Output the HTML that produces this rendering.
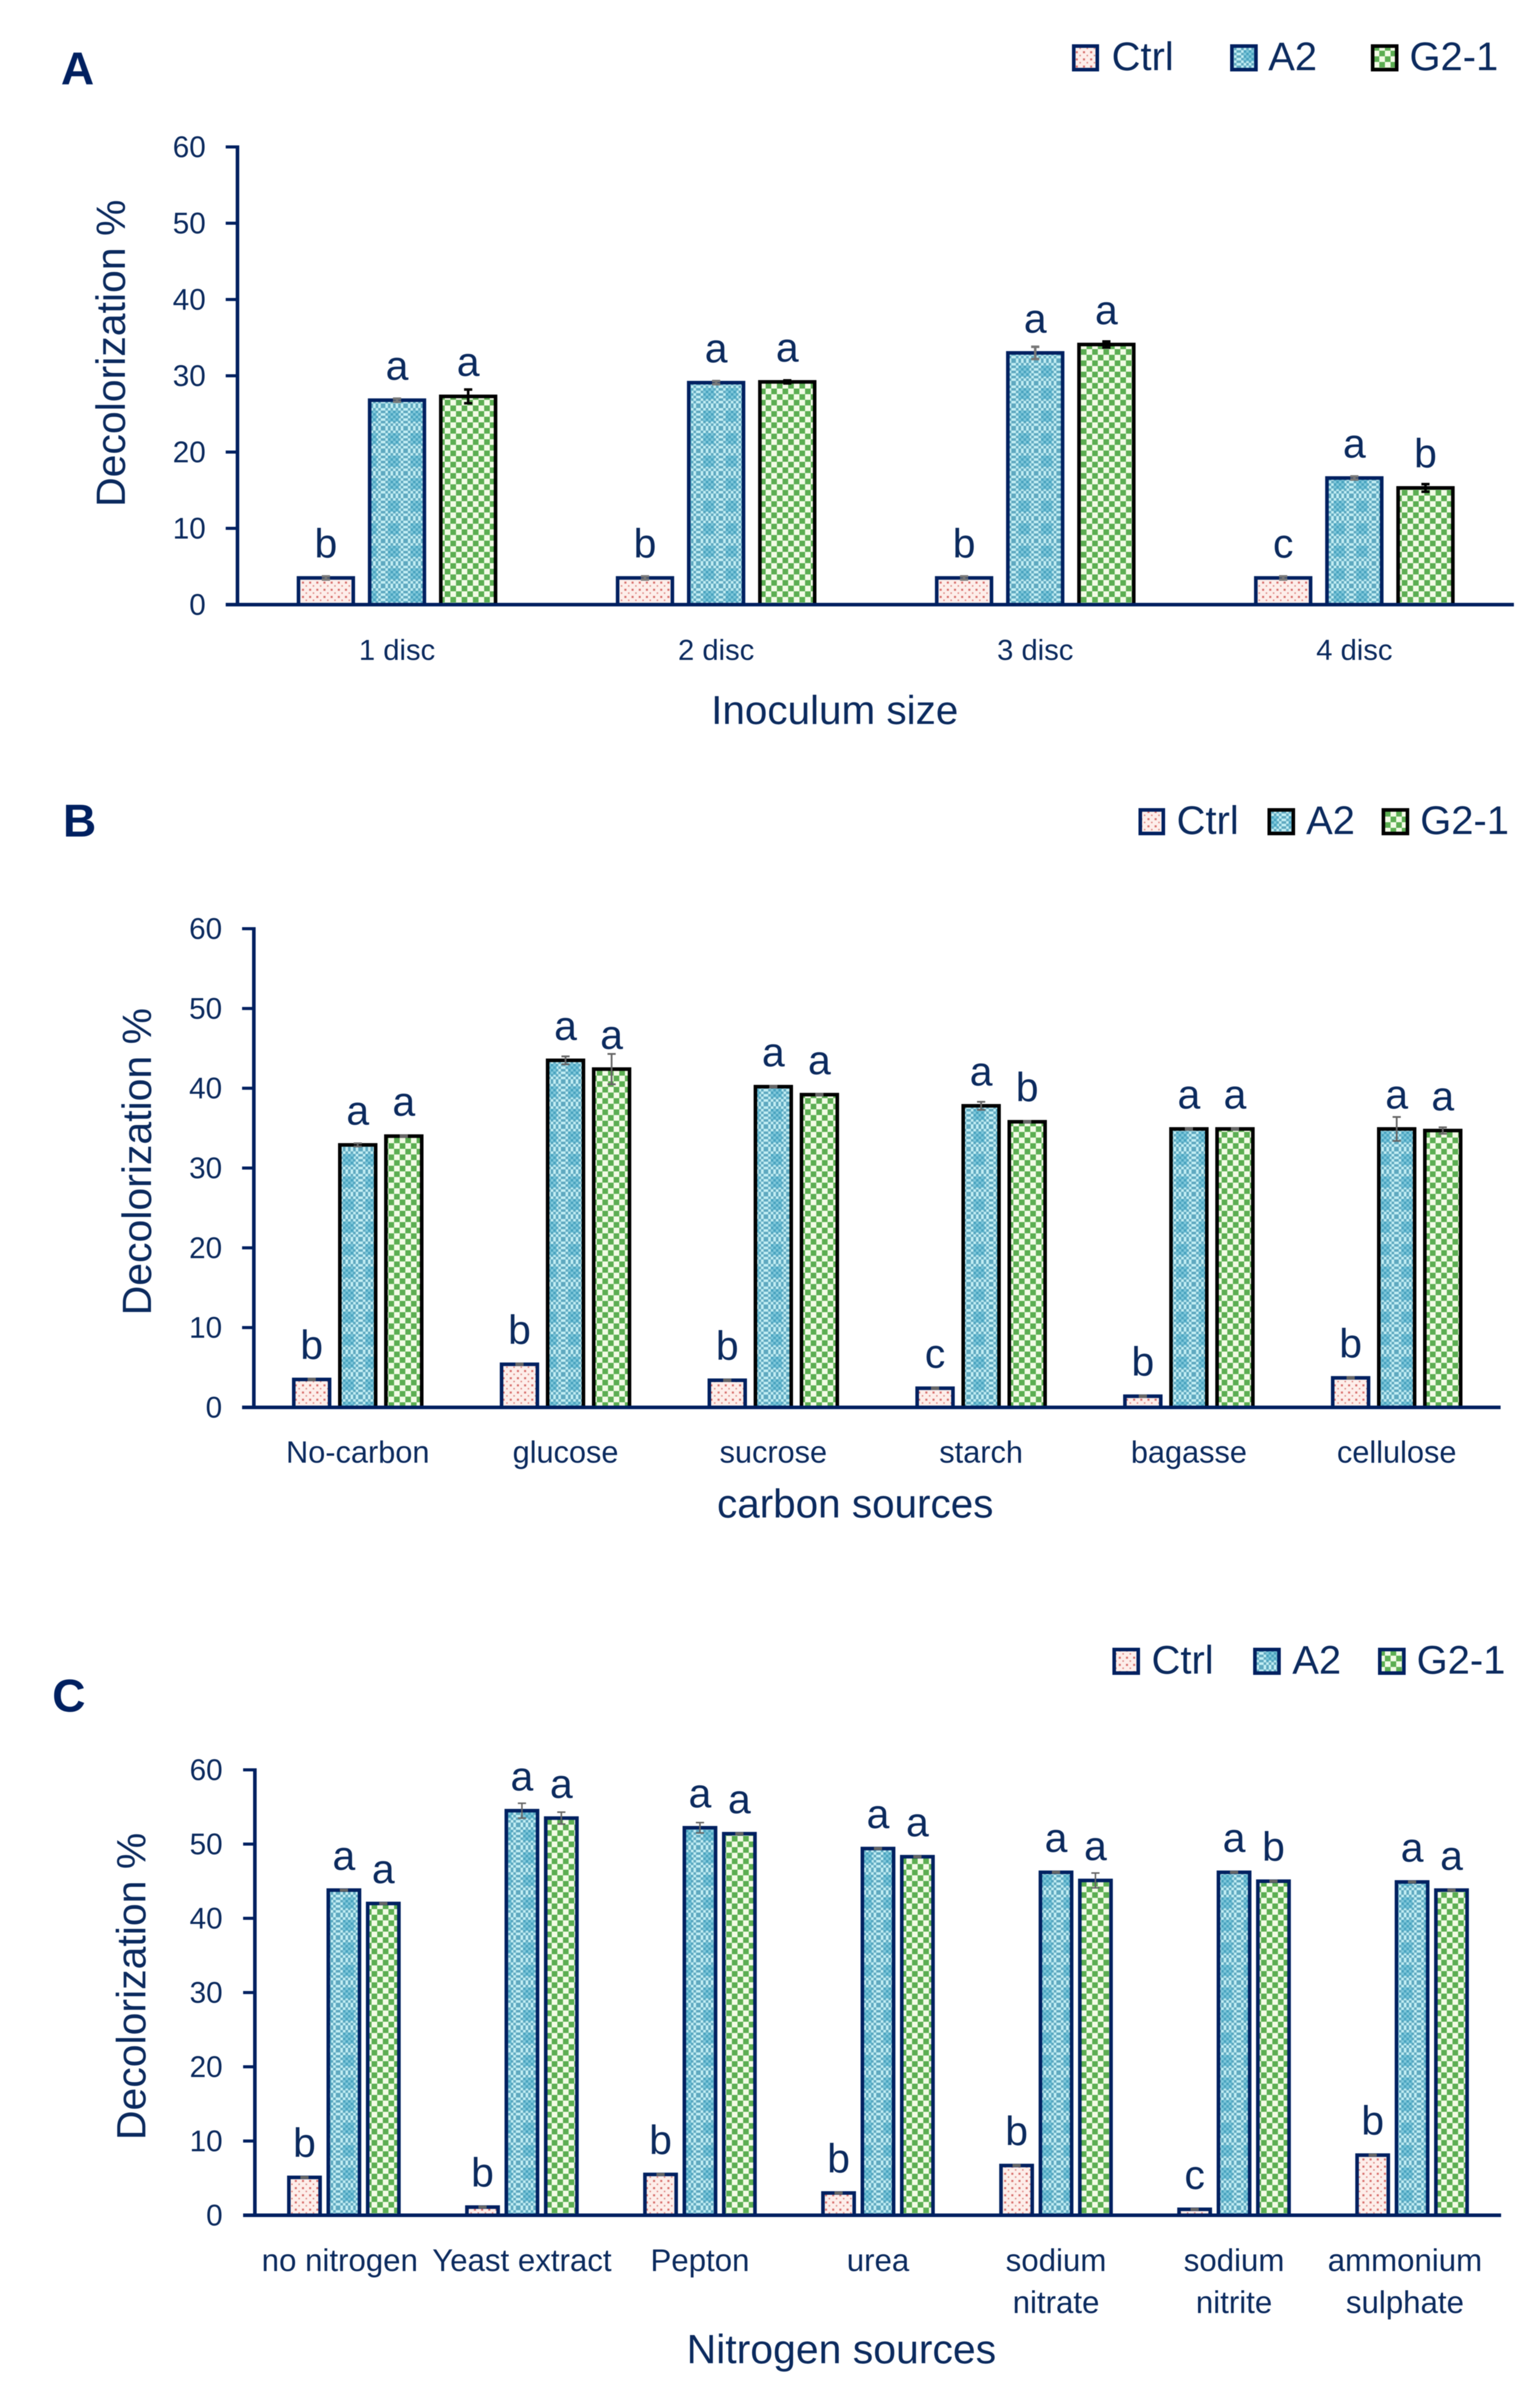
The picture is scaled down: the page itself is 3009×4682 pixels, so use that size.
<!DOCTYPE html>
<html lang="en">
<head>
<meta charset="utf-8">
<title>Decolorization % by inoculum size, carbon sources and nitrogen sources</title>
<style>
html,body{margin:0;padding:0;background:#fff;}
body{width:3009px;height:4682px;overflow:hidden;}
svg{display:block;font-family:"Liberation Sans",sans-serif;fill:#0b2a5e;filter:blur(0.7px);}
svg text{fill:#0b2a5e;}
.panel-letter{font-weight:700;font-size:90px;fill:#002060;}
.leg{font-size:78px;}
</style>
</head>
<body>
<svg id="figure" xmlns="http://www.w3.org/2000/svg" width="3009" height="4682" viewBox="0 0 3009 4682">
  <defs>
    <pattern id="ctrl-fill" patternUnits="userSpaceOnUse" width="14" height="14">
      <rect width="14" height="14" fill="#fdeeea"/>
      <rect x="2" y="2" width="4" height="4" fill="#d9726f"/>
      <rect x="9" y="9" width="3" height="3" fill="#e08f8b"/>
    </pattern>
    <pattern id="fine-check" patternUnits="userSpaceOnUse" width="10" height="10">
      <rect width="10" height="10" fill="#c2edf3"/>
      <rect width="5" height="5" fill="#5fa9c0"/>
      <rect x="5" y="5" width="5" height="5" fill="#5fa9c0"/>
    </pattern>
    <pattern id="a2-fill" patternUnits="userSpaceOnUse" width="44" height="44">
      <rect width="44" height="44" fill="url(#fine-check)"/>
      <rect x="10" y="10" width="22" height="22" fill="#2f9cc0" opacity="0.45"/>
    </pattern>
    <pattern id="g2-fill" patternUnits="userSpaceOnUse" width="22" height="22">
      <rect width="22" height="22" fill="#f3fbe6"/>
      <rect width="11" height="11" fill="#5cae52"/>
      <rect x="11" y="11" width="11" height="11" fill="#5cae52"/>
    </pattern>
  </defs>
  <rect width="3009" height="4682" fill="#ffffff"/>

  <text class="panel-letter" x="119" y="165">A</text>
  <text class="panel-letter" x="123" y="1634">B</text>
  <text class="panel-letter" x="102" y="3343">C</text>

  <g>
    <rect x="2098" y="90" width="46" height="46" fill="url(#ctrl-fill)" stroke="#002060" stroke-width="7"/>
    <text class="leg" x="2172" y="137">Ctrl</text>
    <rect x="2407" y="90" width="47" height="46" fill="url(#a2-fill)" stroke="#002060" stroke-width="7"/>
    <text class="leg" x="2478" y="137">A2</text>
    <rect x="2682" y="90" width="47" height="46" fill="url(#g2-fill)" stroke="#000000" stroke-width="7"/>
    <text class="leg" x="2754" y="137">G2-1</text>
  </g>
  <g>
    <rect x="2228" y="1582" width="45" height="46" fill="url(#ctrl-fill)" stroke="#002060" stroke-width="7"/>
    <text class="leg" x="2299" y="1629">Ctrl</text>
    <rect x="2480" y="1582" width="47" height="46" fill="url(#a2-fill)" stroke="#000000" stroke-width="7"/>
    <text class="leg" x="2552" y="1629">A2</text>
    <rect x="2703" y="1582" width="47" height="46" fill="url(#g2-fill)" stroke="#000000" stroke-width="7"/>
    <text class="leg" x="2775" y="1629">G2-1</text>
  </g>
  <g>
    <rect x="2177" y="3222" width="47" height="46" fill="url(#ctrl-fill)" stroke="#002060" stroke-width="7"/>
    <text class="leg" x="2250" y="3269">Ctrl</text>
    <rect x="2452" y="3222" width="47" height="46" fill="url(#a2-fill)" stroke="#002060" stroke-width="7"/>
    <text class="leg" x="2525" y="3269">A2</text>
    <rect x="2696" y="3222" width="47" height="46" fill="url(#g2-fill)" stroke="#002060" stroke-width="7"/>
    <text class="leg" x="2768" y="3269">G2-1</text>
  </g>
</svg>

<script>
// Shared axis tick labels
const yTickLabels = [0, 10, 20, 30, 40, 50, 60];

// Panel A: inoculum size
const categoriesA = ['1 disc', '2 disc', '3 disc', '4 disc'];
const ctrlA = [3.5, 3.5, 3.5, 3.5];
const a2A = [26.8, 29.1, 33.0, 16.6];
const g2A = [27.3, 29.2, 34.1, 15.3];
const ctrlErrA = [0.2, 0.2, 0.2, 0.2];
const a2ErrA = [0.2, 0.2, 0.8, 0.2];
const g2ErrA = [0.9, 0.2, 0.4, 0.5];
const ctrlLettersA = ['b', 'b', 'b', 'c'];
const a2LettersA = ['a', 'a', 'a', 'a'];
const g2LettersA = ['a', 'a', 'a', 'b'];

// Panel B: carbon sources
const categoriesB = ['No-carbon', 'glucose', 'sucrose', 'starch', 'bagasse', 'cellulose'];
const ctrlB = [3.5, 5.4, 3.4, 2.4, 1.4, 3.7];
const a2B = [32.9, 43.5, 40.2, 37.8, 34.9, 34.9];
const g2B = [34.0, 42.4, 39.2, 35.8, 34.9, 34.7];
const ctrlErrB = [0.1, 0.1, 0.1, 0.1, 0.1, 0.1];
const a2ErrB = [0.2, 0.5, 0.1, 0.5, 0.1, 1.5];
const g2ErrB = [0.1, 1.9, 0.1, 0.1, 0.1, 0.4];
const ctrlLettersB = ['b', 'b', 'b', 'c', 'b', 'b'];
const a2LettersB = ['a', 'a', 'a', 'a', 'a', 'a'];
const g2LettersB = ['a', 'a', 'a', 'b', 'a', 'a'];

// Panel C: nitrogen sources ("|" marks a label line break)
const categoriesC = ['no nitrogen', 'Yeast extract', 'Pepton', 'urea', 'sodium|nitrate', 'sodium|nitrite', 'ammonium|sulphate'];
const ctrlC = [5.1, 1.1, 5.5, 3.0, 6.7, 0.8, 8.1];
const a2C = [43.8, 54.5, 52.2, 49.4, 46.2, 46.2, 44.9];
const g2C = [42.0, 53.5, 51.4, 48.3, 45.1, 45.0, 43.8];
const ctrlErrC = [0.1, 0.1, 0.1, 0.1, 0.1, 0.1, 0.1];
const a2ErrC = [0.1, 1.0, 0.7, 0.1, 0.1, 0.1, 0.1];
const g2ErrC = [0.1, 0.8, 0.1, 0.1, 1.0, 0.1, 0.1];
const ctrlLettersC = ['b', 'b', 'b', 'b', 'b', 'c', 'b'];
const a2LettersC = ['a', 'a', 'a', 'a', 'a', 'a', 'a'];
const g2LettersC = ['a', 'a', 'a', 'a', 'a', 'b', 'a'];

const NS = 'http://www.w3.org/2000/svg';
const svg = document.getElementById('figure');
const NAVY = '#002060';

function make(tag, attrs, parent, text) {
  const e = document.createElementNS(NS, tag);
  for (const k in attrs) e.setAttribute(k, attrs[k]);
  if (text !== undefined) e.textContent = text;
  parent.appendChild(e);
  return e;
}

function drawPanel(p) {
  const root = make('g', {}, svg);
  
  

  const y = v => p.y0 + (p.y60 - p.y0) * v / 60;
  const band = (p.xEnd - p.xAxis) / p.categories.length;
  const xc = i => p.xAxis + band * (i + 0.5);

  const series = [
    { key: 'ctrl', values: p.ctrl, errs: p.ctrlErr, letters: p.ctrlLetters, offset: -p.offset, fill: 'url(#ctrl-fill)', stroke: NAVY, errColor: p.errColors[0] },
    { key: 'a2', values: p.a2, errs: p.a2Err, letters: p.a2Letters, offset: 0, fill: 'url(#a2-fill)', stroke: p.strokes[0], errColor: p.errColors[1] },
    { key: 'g2-1', values: p.g2, errs: p.g2Err, letters: p.g2Letters, offset: p.offset, fill: 'url(#g2-fill)', stroke: p.strokes[1], errColor: p.errColors[2] }
  ];

  // bars, error bars, significance letters
  series.forEach(s => {
    s.values.forEach((v, i) => {
      const cx = xc(i) + s.offset;
      const bar = make('rect', {
        x: cx - p.barW / 2, y: y(v), width: p.barW, height: y(0) - y(v),
        fill: s.fill, stroke: s.stroke, 'stroke-width': 7
      }, root);
      
      

      const e = s.errs[i];
      const d = 'M' + cx + ' ' + y(v + e) + 'V' + y(v - e) +
        'M' + (cx - 8) + ' ' + y(v + e) + 'H' + (cx + 8) +
        'M' + (cx - 8) + ' ' + y(v - e) + 'H' + (cx + 8);
      const err = make('path', { d: d, fill: 'none', stroke: s.errColor, 'stroke-width': p.errW }, root);
      
      

      const letter = make('text', {
        x: cx, y: y(v) - 40, 'text-anchor': 'middle', 'font-size': 80
      }, root, s.letters[i]);
      
      
    });
  });

  // axes
  const yAxis = make('line', { x1: p.xAxis, x2: p.xAxis, y1: y(60) - 3, y2: y(0), stroke: NAVY, 'stroke-width': 7 }, root);
  
  
  const xAxis = make('line', { x1: p.xAxis - 23, x2: p.xEnd, y1: y(0), y2: y(0), stroke: NAVY, 'stroke-width': 7 }, root);
  
  

  yTickLabels.forEach(t => {
    const tick = make('line', { x1: p.xAxis - 23, x2: p.xAxis, y1: y(t), y2: y(t), stroke: NAVY, 'stroke-width': 6 }, root);
    
    
    const label = make('text', { x: p.tickRight, y: y(t) + 20, 'text-anchor': 'end', 'font-size': 58 }, root, String(t));
    
    
  });

  p.categories.forEach((c, i) => {
    const lab = make('text', { 'text-anchor': 'middle', 'font-size': p.catFont }, root);
    
    
    const nudge = p.labelNudge ? p.labelNudge[i] : 0;
    c.split('|').forEach((line, j) => {
      make('tspan', { x: xc(i) + nudge, y: p.catBase + j * 82 }, lab, line);
    });
  });

  const yTitle = make('text', {
    transform: 'translate(' + p.yTitleX + ' ' + p.yTitleY + ') rotate(-90)',
    'text-anchor': 'middle', 'font-size': p.yTitleFont
  }, root, 'Decolorization %');
  
  

  const xTitle = make('text', {
    x: p.xTitleX, y: p.xTitleY, 'text-anchor': 'middle', 'font-size': p.xTitleFont
  }, root, p.xTitle);
  
  
}

drawPanel({
  id: 'a', categories: categoriesA, ctrl: ctrlA, a2: a2A, g2: g2A,
  ctrlErr: ctrlErrA, a2Err: a2ErrA, g2Err: g2ErrA,
  ctrlLetters: ctrlLettersA, a2Letters: a2LettersA, g2Letters: g2LettersA,
  xAxis: 464, xEnd: 2958, y0: 1181, y60: 287, offset: 139, barW: 107,
  strokes: [NAVY, '#000000'], errColors: ['#777777', '#777777', '#000000'], errW: 5,
  tickRight: 402, catFont: 57, catBase: 1289,
  yTitleX: 244, yTitleY: 690, yTitleFont: 80,
  xTitle: 'Inoculum size', xTitleX: 1631, xTitleY: 1414, xTitleFont: 79
});

drawPanel({
  id: 'b', categories: categoriesB, ctrl: ctrlB, a2: a2B, g2: g2B,
  ctrlErr: ctrlErrB, a2Err: a2ErrB, g2Err: g2ErrB,
  ctrlLetters: ctrlLettersB, a2Letters: a2LettersB, g2Letters: g2LettersB,
  xAxis: 496, xEnd: 2932, y0: 2749, y60: 1814, offset: 90, barW: 70,
  strokes: ['#000000', '#000000'], errColors: ['#666666', '#666666', '#666666'], errW: 3.5,
  tickRight: 434, catFont: 60, catBase: 2857,
  yTitleX: 295, yTitleY: 2269, yTitleFont: 80,
  xTitle: 'carbon sources', xTitleX: 1671, xTitleY: 2964, xTitleFont: 79
});

drawPanel({
  id: 'c', categories: categoriesC, ctrl: ctrlC, a2: a2C, g2: g2C,
  ctrlErr: ctrlErrC, a2Err: a2ErrC, g2Err: g2ErrC,
  ctrlLetters: ctrlLettersC, a2Letters: a2LettersC, g2Letters: g2LettersC,
  xAxis: 498, xEnd: 2933, y0: 4327, y60: 3457, offset: 77, barW: 61,
  strokes: [NAVY, NAVY], errColors: ['#666666', '#666666', '#666666'], errW: 3,
  labelNudge: [-8, 0, 0, 0, 0, 0, -14],
  tickRight: 435, catFont: 61, catBase: 4436,
  yTitleX: 284, yTitleY: 3880, yTitleFont: 80,
  xTitle: 'Nitrogen sources', xTitleX: 1644, xTitleY: 4616, xTitleFont: 80
});
</script>
</body>
</html>
